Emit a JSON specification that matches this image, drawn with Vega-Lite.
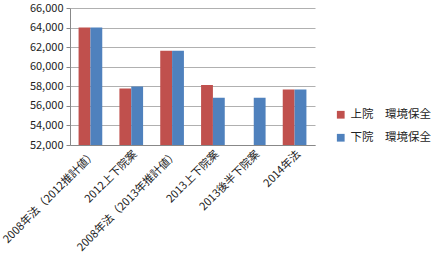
{
  "$schema": "https://vega.github.io/schema/vega-lite/v6.json",
  "autosize": "none",
  "width": 245,
  "height": 137,
  "padding": {"left": 70, "top": 8, "right": 118, "bottom": 117},
  "background": "white",
  "config": {
    "font": "Noto Sans CJK JP",
    "view": {"stroke": null}
  },
  "data": {
    "values": [
      {"case": "2008年法（2012推計値）", "house": "上院　環境保全", "value": 64000},
      {"case": "2008年法（2012推計値）", "house": "下院　環境保全", "value": 64000},
      {"case": "2012上下院案", "house": "上院　環境保全", "value": 57770},
      {"case": "2012上下院案", "house": "下院　環境保全", "value": 57970},
      {"case": "2008年法（2013年推計値）", "house": "上院　環境保全", "value": 61640},
      {"case": "2008年法（2013年推計値）", "house": "下院　環境保全", "value": 61640},
      {"case": "2013上下院案", "house": "上院　環境保全", "value": 58140},
      {"case": "2013上下院案", "house": "下院　環境保全", "value": 56830},
      {"case": "2013後半下院案", "house": "下院　環境保全", "value": 56830},
      {"case": "2014年法", "house": "上院　環境保全", "value": 57670},
      {"case": "2014年法", "house": "下院　環境保全", "value": 57670}
    ]
  },
  "mark": {"type": "bar", "clip": true},
  "encoding": {
    "x": {
      "field": "case",
      "type": "nominal",
      "sort": null,
      "scale": {"paddingInner": 0.42, "paddingOuter": 0.21},
      "axis": {
        "title": null,
        "labelAngle": -45,
        "labelAlign": "right",
        "labelBaseline": "top",
        "labelFontSize": 11,
        "labelColor": "#222",
        "labelPadding": 3,
        "domainColor": "#888",
        "tickColor": "#888",
        "ticks": false,
        "labelLimit": 300
      }
    },
    "xOffset": {"field": "house", "type": "nominal", "sort": ["上院　環境保全", "下院　環境保全"]},
    "y": {
      "field": "value",
      "type": "quantitative",
      "scale": {"domain": [52000, 66000], "nice": false, "zero": false},
      "axis": {
        "title": null,
        "values": [52000, 54000, 56000, 58000, 60000, 62000, 64000, 66000],
        "format": ",d",
        "labelFontSize": 11,
        "labelColor": "#222",
        "domain": true,
        "domainColor": "#888",
        "tickColor": "#888",
        "tickSize": 4,
        "gridColor": "#b0b0b0",
        "labelPadding": 3
      }
    },
    "color": {
      "field": "house",
      "type": "nominal",
      "sort": ["上院　環境保全", "下院　環境保全"],
      "scale": {"domain": ["上院　環境保全", "下院　環境保全"], "range": ["#C0504D", "#4F81BD"]},
      "legend": {
        "title": null,
        "orient": "none",
        "legendX": 265,
        "legendY": 101,
        "symbolType": "square",
        "symbolSize": 60,
        "symbolStrokeWidth": 0,
        "labelFontSize": 11.5,
        "labelColor": "#222",
        "rowPadding": 10
      }
    }
  }
}
